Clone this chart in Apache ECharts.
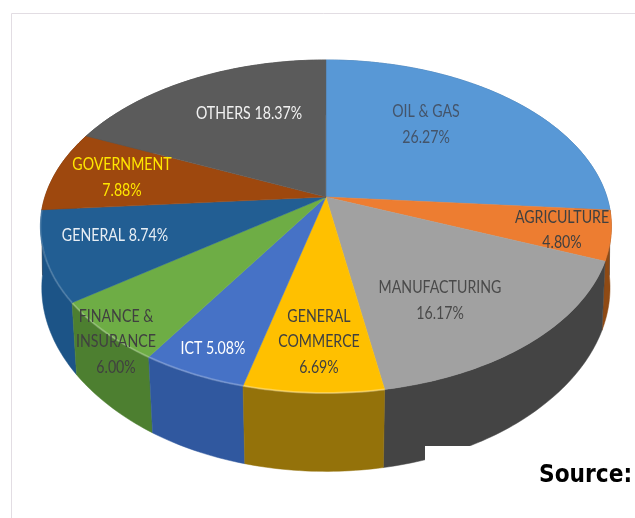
<!DOCTYPE html>
<html>
<head>
<meta charset="utf-8">
<style>html,body{margin:0;padding:0;background:#fff}#chart{width:635px;height:518px}</style>
<script src="https://cdn.jsdelivr.net/npm/echarts@6/dist/echarts.min.js"></script>
</head>
<body>
<div id="chart"></div>
<script>
// Sector shares in percent, clockwise from twelve o'clock.
const categories = ['OIL & GAS', 'AGRICULTURE', 'MANUFACTURING', 'GENERAL\nCOMMERCE', 'ICT',
  'FINANCE &\nINSURANCE', 'GENERAL', 'GOVERNMENT', 'OTHERS'];
const shares = [26.27, 4.80, 16.17, 6.69, 5.08, 6.00, 8.74, 7.88, 18.37];
const valueOnNewLine = [true, true, true, true, false, true, false, true, false];

// Styling per slice.
const topColors = ['#5898d6', '#ed7d31', '#a1a1a1', '#ffc000', '#4672c6', '#6ead45', '#225e93', '#9e480e', '#5b5b5b'];
const wallColors = ['#3a6a98', '#8f4a14', '#444444', '#94720a', '#30589f', '#4d7f30', '#1c5487', '#6d320a', '#444444'];
const rimGlow = [0, 0, 0, 0.3, 0.22, 0.22, 0.16, 0, 0];
const labelColors = ['#44546a', '#404040', '#4a4a4a', '#404040', '#ffffff', '#404040', '#e8eef4', '#ffe600', '#f2f2f2'];
const labelCentres = [[426, 124.5], [562, 230], [440, 300.5], [319, 341.5], [213, 348], [116, 341.5], [115, 235], [122, 177.5], [249, 113]];

// Perspective of the tilted disc: k is the foreshortening, wallDepth the drop of
// the lower face, maxInset how far that face pulls in towards the axis at the front.
const k = 0.177, wallDepth = 0.4, maxInset = 0.022;
const unitX = 282, unitY = 161.3, apexX = 327, apexY = 197;
const xRange = 1.1, yTop = 1, yBottom = -1.8;

const TAU = Math.PI * 2;
function rimPoint(turn, lower) {
  const u = Math.sin(turn * TAU), v = -Math.cos(turn * TAU), w = 1 - k * v;
  if (!lower) return [u / w, -v / w];
  const inset = 1 - Math.min(0.03 * Math.abs(v), maxInset);
  return [inset * u / w, -(v + wallDepth) / w];
}
function arcTurns(a, b) {
  const n = Math.max(2, Math.ceil((b - a) * 360)), out = [];
  for (let i = 0; i <= n; i++) out.push(a + (b - a) * i / n);
  return out;
}
function depthOf(item) {
  return -Math.cos((item[0] + item[1]) / 2 * TAU);
}

let running = 0;
const sliceData = shares.map((s, i) => {
  const start = running / 100;
  running += s;
  return [start, running / 100, i];
});
// Walls are painted back to front so nearer slices cover the farther ones.
const wallData = sliceData.slice().sort((p, q) => depthOf(p) - depthOf(q));

function renderWall(params, api) {
  const a = api.value(0), b = api.value(1), i = api.value(2);
  const turns = arcTurns(a, b);
  const pts = turns.map(t => api.coord(rimPoint(t, false)))
    .concat(turns.slice().reverse().map(t => api.coord(rimPoint(t, true))));
  return { type: 'polygon', shape: { points: pts }, style: { fill: wallColors[i], stroke: wallColors[i], lineWidth: 0.5 } };
}
function renderTop(params, api) {
  const a = api.value(0), b = api.value(1), i = api.value(2);
  const rim = arcTurns(a, b).map(t => api.coord(rimPoint(t, false)));
  const face = { type: 'polygon', shape: { points: [api.coord([0, 0])].concat(rim) },
    style: { fill: topColors[i], stroke: topColors[i], lineWidth: 0.5 } };
  const glow = { type: 'polyline', shape: { points: rim },
    style: { stroke: 'rgba(255,255,255,' + rimGlow[i] + ')', lineWidth: 2, fill: null } };
  return { type: 'group', children: rimGlow[i] ? [face, glow] : [face] };
}
function renderLabel(params, api) {
  const i = api.value(2);
  const value = shares[i].toFixed(2) + '%';
  return {
    type: 'text',
    x: labelCentres[i][0], y: labelCentres[i][1], scaleX: 0.81,
    style: {
      text: categories[i] + (valueOnNewLine[i] ? '\n' : ' ') + value,
      fill: labelColors[i], font: '17.5px Lato', lineHeight: 25.5,
      align: 'center', verticalAlign: 'middle'
    }
  };
}

const chart = echarts.init(document.getElementById('chart'), null, { renderer: 'canvas' });
const customBase = {
  type: 'custom', coordinateSystem: 'cartesian2d', silent: true,
  clip: false, animation: false, encode: { x: 0, y: 1 }
};
chart.setOption({
  backgroundColor: '#ffffff',
  animation: false,
  grid: {
    left: apexX - xRange * unitX, width: 2 * xRange * unitX,
    top: apexY - yTop * unitY, height: (yTop - yBottom) * unitY
  },
  xAxis: { type: 'value', min: -xRange, max: xRange, show: false },
  yAxis: { type: 'value', min: yBottom, max: yTop, show: false },
  series: [
    Object.assign({}, customBase, { name: 'walls', z: 2, data: wallData, renderItem: renderWall }),
    Object.assign({}, customBase, { name: 'faces', z: 3, data: sliceData, renderItem: renderTop }),
    Object.assign({}, customBase, { name: 'labels', z: 4, data: sliceData, renderItem: renderLabel })
  ],
  graphic: [
    { type: 'polyline', z: 10, shape: { points: [[11.5, 518], [11.5, 13.5], [635, 13.5]] },
      style: { stroke: '#e2dde3', lineWidth: 1, fill: null } },
    { type: 'rect', z: 10, shape: { x: 425, y: 446, width: 210, height: 72 }, style: { fill: '#ffffff' } },
    { type: 'text', z: 11, x: 539, y: 475, scaleX: 0.87,
      style: { text: 'Source:', font: 'bold 25px "DejaVu Sans"', fill: '#000000', verticalAlign: 'middle' } }
  ]
});
</script>
</body>
</html>
